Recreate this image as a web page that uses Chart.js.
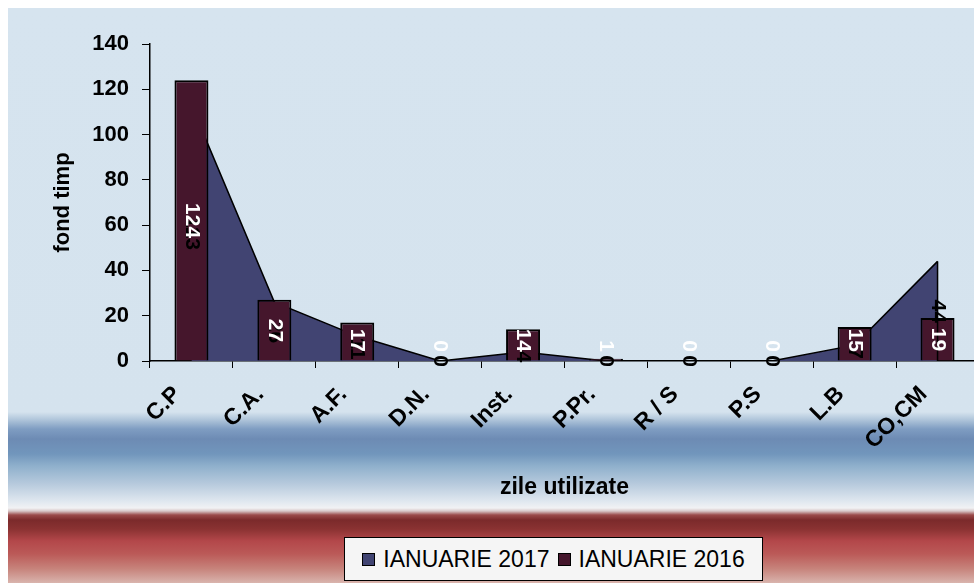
<!DOCTYPE html>
<html>
<head>
<meta charset="utf-8">
<script src="https://cdn.jsdelivr.net/npm/chart.js@4.4.1/dist/chart.umd.min.js"></script>
<style>
  html, body { margin: 0; padding: 0; width: 974px; height: 583px; overflow: hidden; background: #ffffff; }
  #bg {
    position: absolute; left: 8px; top: 8px; width: 966px; height: 575px;
    background: linear-gradient(to bottom,
      #d6e4ef 0px, #d5e3ee 404px, #b3c8dc 411px, #7f9dc2 421px, #6d8bb4 431px,
      #7196bc 446px, #8fb0cc 458px, #b7cadd 476px, #dfe7ef 493px, #f1f2f4 500px,
      #d9c9ca 503px, #9a4a4a 507px, #7b2a2b 512px, #8a3232 521px, #b3474a 533px,
      #bb5a58 546px, #c7847c 561px, #d9b4ad 575px);
  }
  #wrap { position: absolute; left: 0; top: 0; width: 984px; height: 583px; }
  #legend {
    position: absolute; left: 344px; top: 537px; width: 419px; height: 44px;
    background: #f5f5f5; border: 1.5px solid #000; box-sizing: border-box;
    display: flex; align-items: center; justify-content: center;
    font-family: "Liberation Sans", Arial, sans-serif; font-size: 23px; color: #000;
  }
  .li { display: flex; align-items: center; margin: 0 4px; }
  .sw { width: 13px; height: 13px; border: 1.5px solid #000; box-sizing: border-box; margin-right: 8px; }
</style>
</head>
<body>
<div id="bg"></div>
<div id="wrap"><canvas id="c" width="984" height="583"></canvas></div>
<div id="legend">
  <div class="li"><div class="sw" style="background:#414472"></div><span>IANUARIE 2017</span></div>
  <div class="li"><div class="sw" style="background:#45162c"></div><span>IANUARIE 2016</span></div>
</div>
<script>
const categories = ['C.P', 'C.A.', 'A.F.', 'D.N.', 'Inst.', 'P.Pr.', 'R / S', 'P.S', 'L.B', 'CO,CM'];
const ianuarie2017 = [113, 26, 11, 0, 4, 0, 0, 0, 7, 44];
const ianuarie2016 = [124, 27, 17, 0, 14, 1, 0, 0, 15, 19];
const seriesNames = ['IANUARIE 2017', 'IANUARIE 2016'];
const yMin = 0, yMax = 140, yStep = 20;
const yTitle = 'fond timp';
const xTitle = 'zile utilizate';

const FONT = '"Liberation Sans", Arial, sans-serif';

const labelPlugin = {
  id: 'valueLabels',
  afterDatasetsDraw(chart) {
    const ctx = chart.ctx;
    const ys = chart.scales.y;
    const base = ys.getPixelForValue(0);
    // closing vertical edge of the area at its last point
    const areaMeta = chart.getDatasetMeta(0);
    const lastPt = areaMeta.data[areaMeta.data.length - 1];
    ctx.save();
    ctx.strokeStyle = '#000';
    ctx.lineWidth = 1.5;
    ctx.beginPath();
    ctx.moveTo(lastPt.x, lastPt.y);
    ctx.lineTo(lastPt.x, base);
    ctx.stroke();
    ctx.restore();

    ctx.save();
    ctx.font = 'bold 21px ' + FONT;
    ctx.textAlign = 'center';
    ctx.textBaseline = 'middle';
    // area series labels (black) at the middle of each column
    areaMeta.data.forEach((pt, i) => {
      const v = chart.data.datasets[0].data[i];
      const y = ys.getPixelForValue(v / 2);
      ctx.save();
      ctx.translate(pt.x, y);
      ctx.rotate(Math.PI / 2);
      ctx.fillStyle = '#000';
      ctx.fillText(String(v), 0, 0);
      ctx.restore();
    });
    // bar labels (white)
    const barMeta = chart.getDatasetMeta(1);
    barMeta.data.forEach((bar, i) => {
      const v = chart.data.datasets[1].data[i];
      const txt = String(v);
      const hw = ctx.measureText(txt).width / 2;
      let y = (bar.y + base) / 2;
      y = Math.min(y, base - hw - 9);
      ctx.save();
      ctx.translate(bar.x, y);
      ctx.rotate(Math.PI / 2);
      ctx.fillStyle = '#ffffff';
      ctx.fillText(txt, 0, 0);
      ctx.restore();
    });
    ctx.restore();
  }
};

new Chart(document.getElementById('c'), {
  data: {
    labels: categories,
    datasets: [
      {
        type: 'line',
        label: seriesNames[0],
        data: ianuarie2017,
        backgroundColor: '#414472',
        borderColor: '#000000',
        borderWidth: 1.5,
        fill: 'origin',
        tension: 0,
        pointRadius: 0,
        order: 2
      },
      {
        type: 'bar',
        label: seriesNames[1],
        data: ianuarie2016,
        backgroundColor: '#45162c',
        borderColor: '#000000',
        borderWidth: 2,
        categoryPercentage: 1,
        barPercentage: 0.41,
        order: 1
      }
    ]
  },
  options: {
    responsive: false,
    animation: false,
    events: [],
    layout: { padding: { top: 44, left: 0, right: 5, bottom: 78 } },
    plugins: { legend: { display: false }, tooltip: { enabled: false } },
    scales: {
      x: {
        type: 'category',
        offset: true,
        grid: { offset: true, drawOnChartArea: false, drawTicks: true, tickLength: 7, color: '#000', lineWidth: 1 },
        border: { display: true, color: '#000', width: 1.5 },
        ticks: {
          color: '#000', font: { family: FONT, size: 23, weight: 'bold' },
          minRotation: 45, maxRotation: 45, autoSkip: false, padding: 13, labelOffset: -14
        },
        title: { display: true, text: xTitle, color: '#000', font: { family: FONT, size: 23, weight: 'bold' }, padding: { top: 0, bottom: 4 } },
        afterFit(scale) { scale.height = 144; scale.paddingLeft = 0; scale.paddingRight = 0; }
      },
      y: {
        min: yMin, max: yMax,
        grid: { drawOnChartArea: false, drawTicks: true, tickLength: 8, color: '#000', lineWidth: 1 },
        border: { display: true, color: '#000', width: 1.5 },
        ticks: { stepSize: yStep, color: '#000', font: { family: FONT, size: 22, weight: 'bold' }, padding: 13 },
        title: { display: true, text: yTitle, color: '#000', font: { family: FONT, size: 22, weight: 'bold' }, padding: { top: 50, bottom: 0 } },
        afterFit(scale) { scale.width = 150; scale.paddingTop = 0; scale.paddingBottom = 0; }
      }
    }
  },
  plugins: [labelPlugin]
});
</script>
</body>
</html>
